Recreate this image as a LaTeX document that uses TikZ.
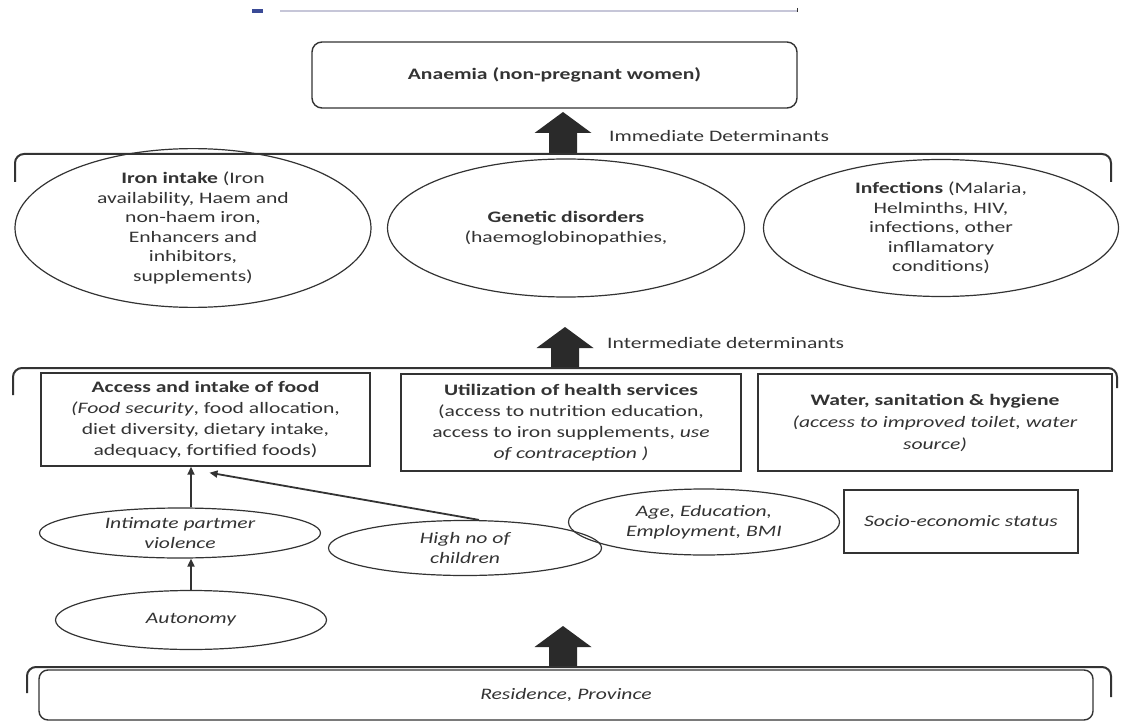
\documentclass[tikz,border=0pt]{standalone}
\usepackage{fontspec}
\setmainfont{Carlito}[FakeStretch=1.35]
\usetikzlibrary{shapes.geometric,arrows.meta,calc}
\definecolor{ink}{HTML}{333333}
\definecolor{arrowink}{HTML}{2A2A2A}
\definecolor{faintline}{HTML}{C6C6D8}
\definecolor{markblue}{HTML}{3A4A96}
\begin{document}
\begin{tikzpicture}[x=1pt,y=-1pt,
  every node/.style={text=ink, font=\fontsize{16}{19.6}\selectfont, align=center, inner sep=0pt},
  ell/.style={draw=ink, line width=1.2pt, ellipse},
  box/.style={draw=ink, line width=1.4pt, rectangle},
  boxtext/.style={font=\fontsize{16}{21}\selectfont},
  brk/.style={draw=ink, line width=2pt, rounded corners=9pt},
  thinarrow/.style={draw=ink, line width=1.8pt, -{Triangle[length=8pt,width=7pt]}},
  bigarrow/.pic={\fill[arrowink] (-14,0) -- (-14,-20) -- (-28.5,-20) -- (0,-41) -- (28.5,-20) -- (14,-20) -- (14,0) -- cycle;}
]
\useasboundingbox (0,0) rectangle (1121,722);

% faint artefact line at the top
\draw[faintline, line width=1.6pt] (280,11) -- (797,11);
\fill[markblue] (252,9) rectangle (263,13);
\draw[ink, line width=1pt] (797,8) -- (797,12);

% top outcome
\node[box, rounded corners=10pt, minimum width=485, minimum height=66,
      font=\fontsize{16}{19.6}\selectfont\bfseries] (anaemia) at (554.5,75) {Anaemia (non-pregnant women)};

% level arrows
\pic at (563,153) {bigarrow};
\node[anchor=west] (imm) at (609,136) {Immediate Determinants};
\pic at (565,368) {bigarrow};
\node[anchor=west] (intm) at (607,343) {Intermediate determinants};
\pic at (563,667) {bigarrow};

% brackets
\draw[brk] (15,182) -- (15,154) -- (1111,154) -- (1111,182);
\draw[brk] (13,395) -- (13,368) -- (1117,368) -- (1117,388);
\draw[brk] (27,693) -- (27,667) -- (1111,667) -- (1111,697);

% immediate determinants
\node[ell, minimum width=356, minimum height=137] (iron) at (193,228)
  {\textbf{Iron intake} (Iron\\availability, Haem and\\non-haem iron,\\Enhancers and\\inhibitors,\\supplements)};
\node[ell, minimum width=357, minimum height=138] (genetic) at (566,228)
  {\textbf{Genetic disorders}\\(haemoglobinopathies,};
\node[ell, minimum width=355, minimum height=137] (infect) at (941,228)
  {\textbf{Infections} (Malaria,\\Helminths, HIV,\\infections, other\\infllamatory\\conditions)};

% intermediate determinants
\node[box, boxtext, minimum width=329, minimum height=93] (access) at (205.5,419.5)
  {\textbf{Access and intake of food}\\\textit{(Food security}, food allocation,\\diet diversity, dietary intake,\\adequacy, fortified foods)};
\node[box, boxtext, minimum width=340, minimum height=97] (util) at (571,422.5)
  {\textbf{Utilization of health services}\\(access to nutrition education,\\access to iron supplements, \textit{use}\\\textit{of contraception )}};
\node[box, font=\fontsize{16}{22}\selectfont, minimum width=354, minimum height=97] (water) at (935,422.5)
  {\textbf{Water, sanitation \& hygiene}\\\textit{(access to improved toilet, water}\\\textit{source)}};

% underlying factors
\node[ell, minimum width=281, minimum height=50, font=\fontsize{16}{20}\selectfont\itshape] (ipv) at (180,533)
  {Intimate partmer\\violence};
\node[ell, minimum width=273, minimum height=55, font=\fontsize{16}{20}\selectfont\itshape] (high) at (465,548)
  {High no of\\children};
\node[ell, minimum width=271, minimum height=66, font=\fontsize{16}{20}\selectfont\itshape] (age) at (704,522)
  {Age, Education,\\Employment, BMI};
\node[box, minimum width=234, minimum height=63, font=\fontsize{16}{20}\selectfont\itshape] (ses) at (961,521.5)
  {Socio-economic status};
\node[ell, minimum width=271, minimum height=59, font=\fontsize{16}{20}\selectfont\itshape] (auto) at (191,620)
  {Autonomy};
\node[box, rounded corners=9pt, minimum width=1054, minimum height=50, font=\fontsize{16}{20}\selectfont\itshape] (res) at (566,695)
  {Residence, Province};

% connectors
\draw[thinarrow] (auto.north) -- (ipv.south -| auto.north);
\draw[thinarrow] (ipv.north -| auto.north) -- (access.south -| auto.north);
\draw[thinarrow] ($(high.north)+(14,0)$) -- ($(access.south)+(4,6)$);
\end{tikzpicture}
\end{document}
